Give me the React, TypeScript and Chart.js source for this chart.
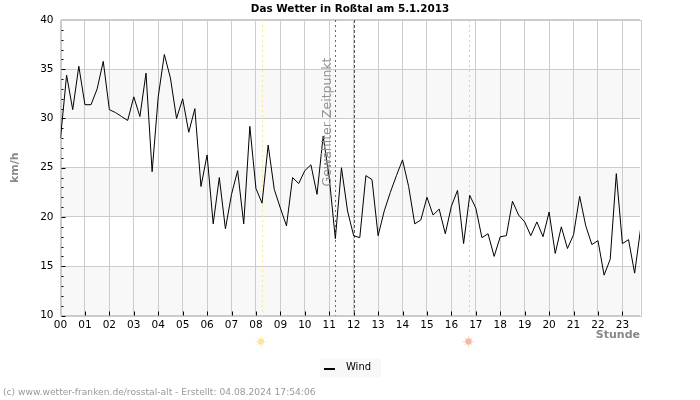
import React, { useEffect, useRef } from "react";
import { Chart, registerables } from "chart.js";

Chart.register(...registerables);

const TITLE = "Das Wetter in Roßtal am 5.1.2013";
const FOOTER = "(c) www.wetter-franken.de/rosstal-alt - Erstellt: 04.08.2024 17:54:06";
const SERIES_NAME = "Wind";
const MARKER_LABEL = "Gewählter Zeitpunkt";
const FONT = "'DejaVu Sans', sans-serif";

const hours = Array.from({ length: 96 }, (_, i) => i * 0.25);
const hourTicks = Array.from({ length: 24 }, (_, i) => i);
const wind = [
  28, 34.4, 30.9, 35.3, 31.4, 31.4, 33, 35.8, 30.9, 30.6, 30.2, 29.8,
  32.2, 30.2, 34.6, 24.6, 32.2, 36.5, 34.1, 30, 32, 28.6, 31, 23.1,
  26.3, 19.3, 24, 18.8, 22.3, 24.7, 19.3, 29.2, 22.9, 21.4, 27.3, 22.8,
  20.9, 19.1, 24, 23.4, 24.7, 25.3, 22.3, 28.2, 24, 17.8, 25, 20.6,
  18.1, 17.9, 24.2, 23.8, 18.1, 20.6, 22.5, 24.2, 25.8, 23.1, 19.3, 19.7,
  22, 20.2, 20.8, 18.3, 21.1, 22.7, 17.3, 22.2, 20.9, 17.9, 18.3, 16,
  18, 18.1, 21.6, 20.2, 19.5, 18.1, 19.5, 18, 20.5, 16.3, 19, 16.8,
  18.2, 22.1, 19.1, 17.2, 17.6, 14.1, 15.7, 24.4, 17.3, 17.7, 14.3, 18.9,
];
const bands = [[30, 35], [20, 25], [10, 15]];
const sunrise = 8.24;
const sunset = 16.74;
const markerDotted = 11.25;
const markerDashed = 12;

function legendSwatch() {
  const c = document.createElement("canvas");
  c.width = 22;
  c.height = 10;
  const g = c.getContext("2d")!;
  g.fillStyle = "#000000";
  g.fillRect(0, 6, 11, 2);
  return c;
}

function drawSun(ctx: CanvasRenderingContext2D, x: number, y: number, core: string, ray: string) {
  ctx.save();
  ctx.strokeStyle = ray;
  ctx.lineWidth = 1;
  for (let i = 0; i < 8; i++) {
    const a = (i * Math.PI) / 4;
    ctx.beginPath();
    ctx.moveTo(x + Math.cos(a) * 3.5, y + Math.sin(a) * 3.5);
    ctx.lineTo(x + Math.cos(a) * 5.8, y + Math.sin(a) * 5.8);
    ctx.stroke();
  }
  ctx.fillStyle = core;
  ctx.beginPath();
  ctx.arc(x, y, 3.3, 0, Math.PI * 2);
  ctx.fill();
  ctx.restore();
}

const decor = {
  id: "decor",
  beforeDraw(chart: any) {
    const { ctx, chartArea: a, scales, legend } = chart;
    ctx.save();
    ctx.fillStyle = "#f8f8f8";
    for (const [lo, hi] of bands) {
      const t = scales.y.getPixelForValue(hi);
      const b = scales.y.getPixelForValue(lo);
      ctx.fillRect(a.left, t, a.right - a.left, b - t);
    }
    if (legend && legend.legendHitBoxes && legend.legendHitBoxes[0]) {
      const box = legend.legendHitBoxes[0];
      const mid = Math.round(box.left + box.width / 2);
      ctx.fillRect(mid - 30, legend.top + 1, 61, 19);
    }
    ctx.restore();
  },
  beforeDatasetsDraw(chart: any) {
    const { ctx, chartArea: a, scales } = chart;
    const vline = (v: number, color: string, dash: number[]) => {
      const x = Math.round(scales.x.getPixelForValue(v)) + 0.5;
      ctx.save();
      ctx.strokeStyle = color;
      ctx.lineWidth = 1;
      ctx.setLineDash(dash);
      ctx.beginPath();
      ctx.moveTo(x, a.top);
      ctx.lineTo(x, a.bottom);
      ctx.stroke();
      ctx.restore();
    };
    ctx.save();
    ctx.strokeStyle = "#cccccc";
    ctx.lineWidth = 1;
    ctx.strokeRect(Math.round(a.left) + 0.5, Math.round(a.top) + 0.5, Math.round(a.right - a.left), Math.round(a.bottom - a.top));
    ctx.strokeStyle = "#000000";
    ctx.beginPath();
    for (let v = 10; v < 40; v++) {
      const y = Math.round(scales.y.getPixelForValue(v)) + 0.5;
      ctx.moveTo(a.left + 1, y);
      ctx.lineTo(a.left + (v % 5 === 0 ? 5 : 3), y);
    }
    for (const h of hourTicks.slice(1)) {
      const x = Math.round(scales.x.getPixelForValue(h)) + 0.5;
      ctx.moveTo(x, a.bottom);
      ctx.lineTo(x, a.bottom - 4);
    }
    ctx.stroke();
    ctx.restore();
    vline(sunrise, "#f5e88f", [2, 3]);
    vline(sunset, "#f5c98a", [2, 3]);
    vline(markerDotted, "#666666", [2, 3]);
    vline(markerDashed, "#555555", [3, 2]);
  },
  afterDatasetsDraw(chart: any) {
    const { ctx, chartArea: a, scales } = chart;
    const xm = scales.x.getPixelForValue(markerDotted);
    ctx.save();
    ctx.translate(xm - 7.5, 122);
    ctx.rotate(-Math.PI / 2);
    ctx.font = `12.5px ${FONT}`;
    ctx.fillStyle = "#909090";
    ctx.textAlign = "center";
    ctx.textBaseline = "middle";
    ctx.fillText(MARKER_LABEL, 0, 0);
    ctx.restore();
    drawSun(ctx, scales.x.getPixelForValue(sunrise) - 1, a.bottom + 26, "#fbe79c", "#fdf0c4");
    drawSun(ctx, scales.x.getPixelForValue(sunset) - 1, a.bottom + 26, "#fbb8a0", "#fdd8cc");
    ctx.save();
    ctx.font = `9.15px ${FONT}`;
    ctx.fillStyle = "#999999";
    ctx.textBaseline = "middle";
    ctx.fillText(FOOTER, 3, 393);
    ctx.restore();
  },
};

export default function App() {
  const ref = useRef<HTMLCanvasElement>(null);
  useEffect(() => {
    const swatch = legendSwatch();
    const chart = new Chart(ref.current!, {
      type: "line",
      data: {
        labels: hours,
        datasets: [
          {
            label: SERIES_NAME,
            data: hours.map((h, i) => ({ x: h, y: wind[i] })),
            borderColor: "#000000",
            backgroundColor: "#000000",
            borderWidth: 1,
            pointRadius: 0,
            tension: 0,
          },
        ],
      },
      options: {
        animation: false,
        responsive: false,
        layout: { padding: { left: 0, right: 0, top: 3, bottom: 18 } },
        plugins: {
          tooltip: { enabled: false },
          title: {
            display: true,
            text: TITLE,
            color: "#000000",
            font: { family: FONT, size: 10.4, weight: "bold" },
            padding: { top: 0, bottom: 4.5 },
          },
          legend: {
            display: true,
            position: "bottom",
            labels: {
              color: "#000000",
              font: { family: FONT, size: 10 },
              usePointStyle: true,
              pointStyle: "line",
              pointStyleWidth: 12,
              boxHeight: 10,
              padding: 4.5,
              generateLabels: () => [
                { text: SERIES_NAME, strokeStyle: "#000000", fillStyle: "#000000", lineWidth: 2, pointStyle: swatch, datasetIndex: 0 },
              ],
            },
          },
        },
        scales: {
          x: {
            type: "linear",
            min: 0,
            max: 23.72,
            afterBuildTicks: (s: any) => {
              s.ticks = hourTicks.map((value) => ({ value }));
            },
            afterFit: (s: any) => {
              s.height = 42;
            },
            border: { display: false },
            grid: { color: "#cccccc", lineWidth: 1, drawTicks: false },
            ticks: {
              stepSize: 1,
              autoSkip: false,
              maxRotation: 0,
              padding: 3,
              color: "#000000",
              font: { family: FONT, size: 10.5 },
              callback: (v: any) => String(v).padStart(2, "0"),
            },
            title: {
              display: true,
              text: "Stunde",
              align: "end",
              color: "#888888",
              font: { family: FONT, size: 11, weight: "bold" },
              padding: { top: 0, bottom: 16 },
            },
          },
          y: {
            min: 10,
            max: 40,
            afterFit: (s: any) => {
              s.width = 60.5;
            },
            border: { display: false },
            grid: {
              drawTicks: false,
              lineWidth: 1,
              color: (c: any) => (c.tick && c.tick.value % 5 === 0 ? "#cccccc" : "rgba(0,0,0,0)"),
            },
            ticks: {
              stepSize: 1,
              autoSkip: false,
              padding: 7,
              color: "#000000",
              font: { family: FONT, size: 10.5 },
              callback: (v: any) => (Number(v) % 5 === 0 ? String(v) : ""),
            },
            title: {
              display: true,
              text: "km/h",
              color: "#888888",
              font: { family: FONT, size: 11, weight: "bold" },
              padding: { top: 9, bottom: 0 },
            },
          },
          yRight: {
            position: "right",
            min: 10,
            max: 40,
            afterFit: (s: any) => {
              s.width = 60;
            },
            border: { display: false },
            grid: { display: false, drawTicks: false },
            ticks: { display: false },
          },
        },
      } as any,
      plugins: [decor],
    });
    return () => chart.destroy();
  }, []);
  return (
    <div style={{ position: "absolute", left: 0, top: 0, width: 700, height: 400 }}>
      <canvas ref={ref} width={700} height={400} style={{ display: "block" }} />
    </div>
  );
}
